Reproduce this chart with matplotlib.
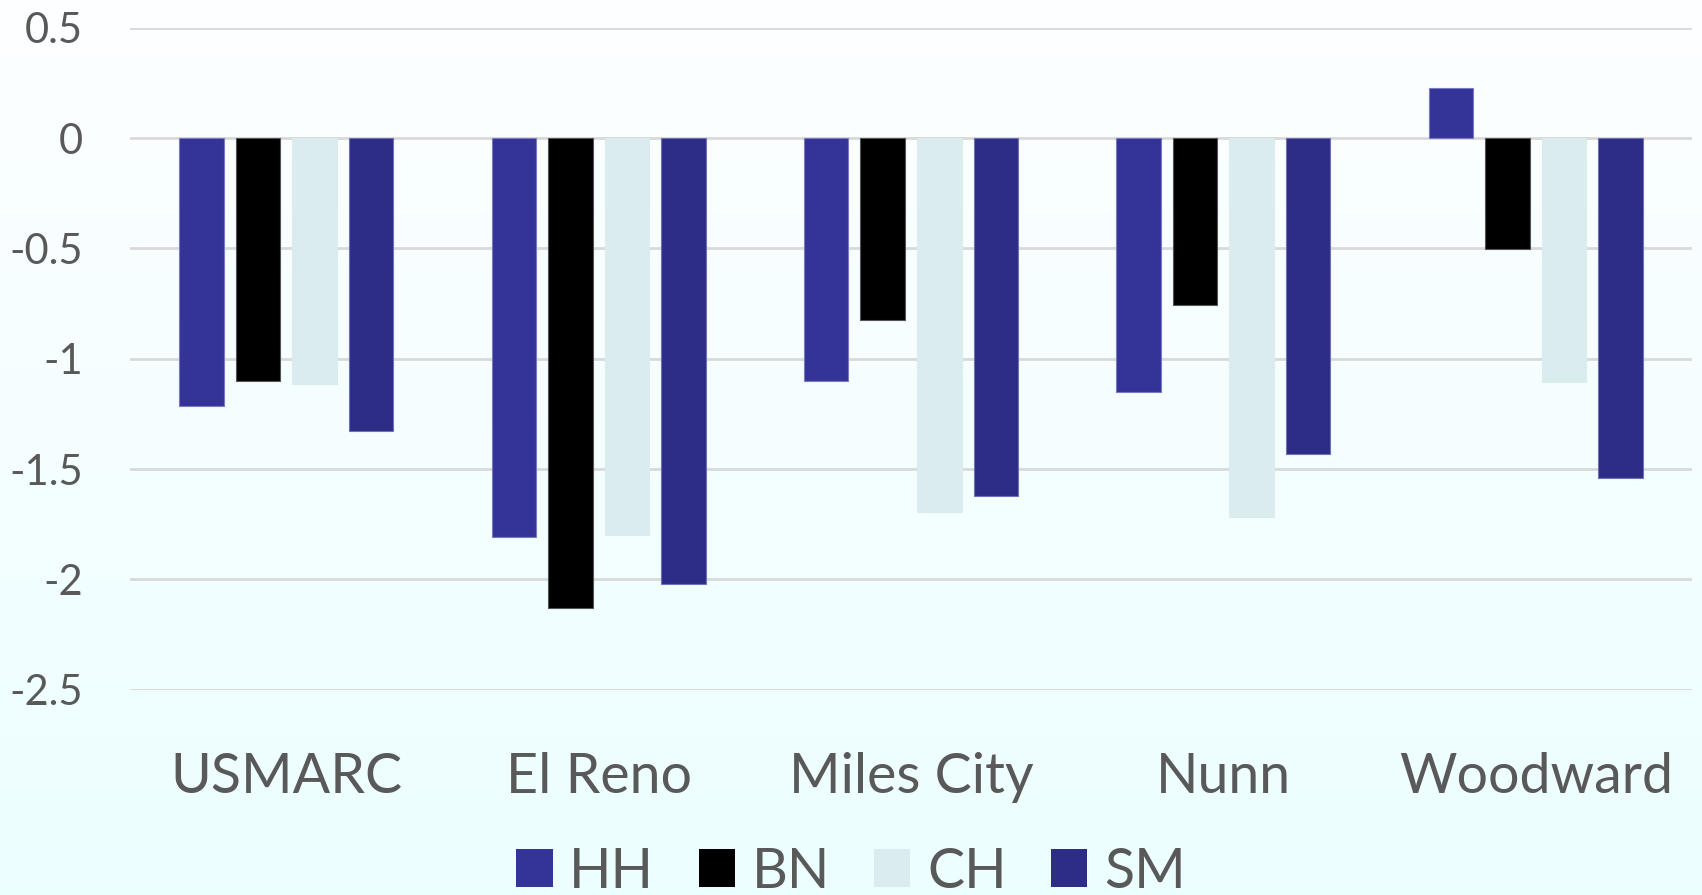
import numpy as np
import matplotlib.pyplot as plt

# data
sites = ['USMARC', 'El Reno', 'Miles City', 'Nunn', 'Woodward']
breeds = ['HH', 'BN', 'CH', 'SM']
hh = [-1.216, -1.807, -1.100, -1.151, 0.227]
bn = [-1.101, -2.131, -0.826, -0.757, -0.503]
ch = [-1.116, -1.797, -1.693, -1.716, -1.106]
sm = [-1.329, -2.023, -1.621, -1.434, -1.542]
yticks = [0.5, 0, -0.5, -1, -1.5, -2, -2.5]
ytick_labels = ['0.5', '0', '-0.5', '-1', '-1.5', '-2', '-2.5']

colors = ['#343397', '#000000', '#DAECEE', '#2D2D87']
edges = ['#7a7ac0', '#555555', '#DAECEE', '#7070b8']
text_col = '#595959'

plt.rcParams['font.family'] = ['Lato', 'DejaVu Sans']

fig = plt.figure(figsize=(17.02, 8.951), dpi=100)

# background gradient, near white at top to pale cyan at bottom
bg = fig.add_axes([0, 0, 1, 1], zorder=-1)
top = np.array([253, 254, 255]) / 255
bot = np.array([236, 255, 255]) / 255
t = np.linspace(0, 1, 256)[:, None]
grad = top[None, :] * (1 - t) + bot[None, :] * t
bg.imshow(grad[:, None, :], aspect='auto', extent=[0, 1, 0, 1])
bg.axis('off')

ax = fig.add_axes([0.0764, 0.2294, 0.9177, 0.7397])
ax.set_facecolor('none')

x = np.arange(len(sites))
step = 0.181
width = 0.1424
for k, (name, vals) in enumerate(zip(breeds, [hh, bn, ch, sm])):
    ax.bar(x + (k - 1.5) * step, vals, width, color=colors[k],
           edgecolor=edges[k], linewidth=0.8, label=name, zorder=3)

ax.set_xlim(-0.5, len(sites) - 0.5)
ax.set_ylim(-2.5, 0.5)
ax.set_yticks(yticks)
ax.set_yticklabels(ytick_labels)
ax.yaxis.grid(True, color='#D9D9D9', linewidth=2, zorder=0)
ax.set_axisbelow(True)
for s in ax.spines.values():
    s.set_visible(False)
ax.tick_params(axis='y', length=0, pad=34, labelsize=30, labelcolor=text_col)
ax.set_xticks(x)
ax.set_xticklabels(sites)
ax.tick_params(axis='x', length=0, pad=45, labelsize=40, labelcolor=text_col)

leg = fig.legend(loc='center', bbox_to_anchor=(0.5, 1 - 872 / 895), ncol=4,
                 frameon=False, fontsize=40, handlelength=0.65, handleheight=0.65,
                 handletextpad=0.3, columnspacing=0.8, labelcolor=text_col)
for h in leg.legend_handles:
    h.set_edgecolor('none')

fig.savefig('out.png', dpi=100)
plt.close()
